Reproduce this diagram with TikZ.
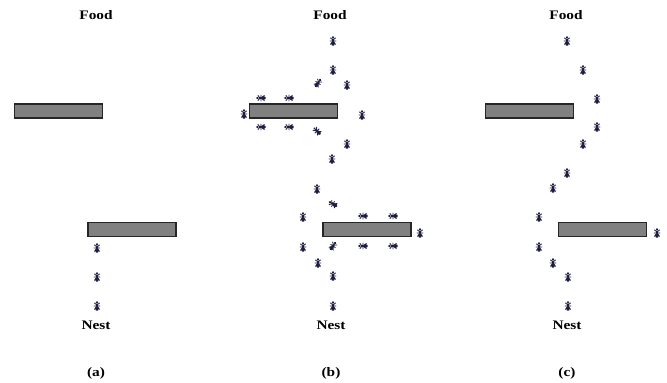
\documentclass[tikz,border=0pt]{standalone}
\usepackage{fontspec}
\setmainfont{Liberation Serif}
\definecolor{antcol}{RGB}{30,30,66}
\definecolor{wallfill}{RGB}{128,128,128}
\begin{document}
\begin{tikzpicture}[x=1pt,y=-1pt,
  caption/.style={font=\bfseries\fontsize{13}{13}\selectfont, inner sep=0pt},
  barrier/.style={draw=black!85, line width=1.3pt, fill=wallfill,
    minimum width=88pt, minimum height=14pt, inner sep=0pt},
  ant/.pic={
    \fill[antcol] (0,-3.6) circle (1.3);
    \fill[antcol] (0,-1.0) ellipse (1.4 and 1.7);
    \fill[antcol] (0,2.4) ellipse (1.9 and 2.4);
    \draw[antcol, line width=0.8pt, line cap=round]
      (-2.6,-3.0) -- (0,-1.2) -- (2.6,-3.0)
      (-2.9,0) -- (2.9,0)
      (-2.6,3.3) -- (0,0.8) -- (2.6,3.3);
  }
]
\useasboundingbox (0,0) rectangle (667,383);

% ---------- panel (a): obstacles placed, a single trail on the right
\node[caption] (foodA) at (96,15) {\scalebox{1.18}[1]{Food}};
\node[caption] (nestA) at (96,325) {\scalebox{1.18}[1]{Nest}};
\node[caption] (capA)  at (96,373) {\scalebox{1.18}[1]{(a)}};
\node[barrier] (wallA1) at (58.5,111) {};
\node[barrier] (wallA2) at (132,229.5) {};
\foreach \p [count=\i] in {(97,248),(97,277),(97,306)}
  \pic (antA\i) at \p {ant};

% ---------- panel (b): ants spread around both obstacles
\node[caption] (foodB) at (330,15) {\scalebox{1.18}[1]{Food}};
\node[caption] (nestB) at (331,325) {\scalebox{1.18}[1]{Nest}};
\node[caption] (capB)  at (331,373) {\scalebox{1.18}[1]{(b)}};
\node[barrier] (wallB1) at (293.5,111) {};
\node[barrier] (wallB2) at (367,229.5) {};
% ants walking up/down
\foreach \p [count=\i] in {(333,41),(333,70),(347,85),(244,114),(362,115),
    (347,144),(332,159),(317,189),(303,217),(420,233),(303,247),
    (318,263),(333,276),(333,306)}
  \pic (antBv\i) at \p {ant};
% ants walking along the obstacle edges
\foreach \p [count=\i] in {(261,98),(289,98),(261,127),(289,127),
    (363,216),(393,216),(363,246),(393,246)}
  \pic[rotate=90] (antBh\i) at \p {ant};
% ants turning
\pic[rotate=-35] (antBt1) at (318,83) {ant};
\pic[rotate=45]  (antBt2) at (317,131) {ant};
\pic[rotate=60]  (antBt3) at (333,204) {ant};
\pic[rotate=-35] (antBt4) at (333,246) {ant};

% ---------- panel (c): the shortest path around both obstacles
\node[caption] (foodC) at (566,15) {\scalebox{1.18}[1]{Food}};
\node[caption] (nestC) at (567,325) {\scalebox{1.18}[1]{Nest}};
\node[caption] (capC)  at (567,373) {\scalebox{1.18}[1]{(c)}};
\node[barrier] (wallC1) at (529.5,111) {};
\node[barrier] (wallC2) at (602.5,229.5) {};
\foreach \p [count=\i] in {(567,41),(583,70),(597,99),(597,127),(583,144),
    (567,173),(553,188),(539,217),(657,233),(539,247),(553,263),
    (568,277),(568,306)}
  \pic (antC\i) at \p {ant};
\end{tikzpicture}
\end{document}
